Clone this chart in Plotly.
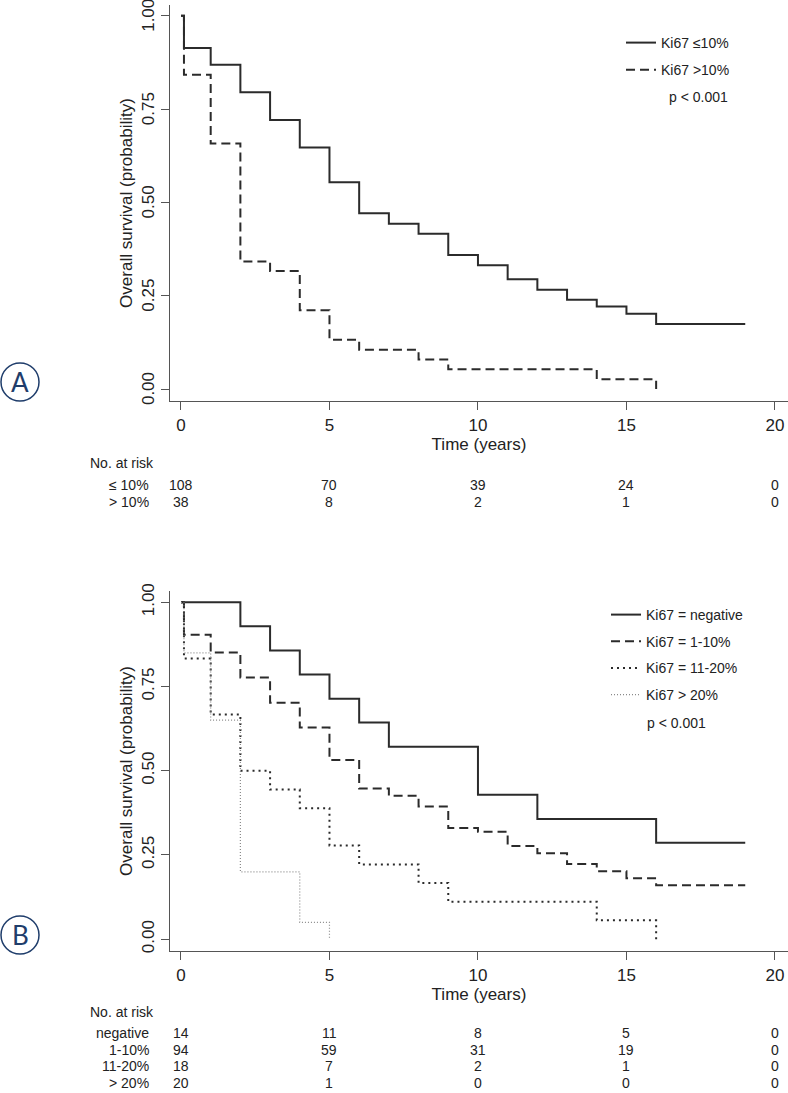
import plotly.graph_objects as go

# ---- data ----
# panel A: Ki67 <=10% vs >10%
a_le10_t = [0, 0.1, 1, 2, 3, 4, 5, 6, 7, 8, 9, 10, 11, 12, 13, 14, 15, 16, 19]
a_le10_s = [1.0, 0.914, 0.869, 0.795, 0.721, 0.647, 0.554, 0.471, 0.443, 0.416,
            0.359, 0.332, 0.294, 0.266, 0.239, 0.221, 0.202, 0.174, 0.174]
a_gt10_t = [0, 0.1, 1, 2, 3, 4, 5, 6, 8, 9, 14, 16]
a_gt10_s = [1.0, 0.842, 0.658, 0.342, 0.316, 0.211, 0.132, 0.105, 0.079, 0.053, 0.026, 0.0]

# panel B: four Ki67 groups
b_neg_t = [0, 2, 3, 4, 5, 6, 7, 10, 12, 16, 19]
b_neg_s = [1.0, 0.929, 0.857, 0.786, 0.714, 0.643, 0.571, 0.429, 0.357, 0.286, 0.286]
b_1_10_t = [0, 0.1, 1, 2, 3, 4, 5, 6, 7, 8, 9, 10, 11, 12, 13, 14, 15, 16, 19]
b_1_10_s = [1.0, 0.904, 0.851, 0.777, 0.702, 0.628, 0.532, 0.447, 0.426, 0.394,
            0.330, 0.319, 0.277, 0.255, 0.223, 0.202, 0.181, 0.160, 0.160]
b_11_20_t = [0, 0.1, 1, 2, 3, 4, 5, 6, 8, 9, 14, 16]
b_11_20_s = [1.0, 0.833, 0.667, 0.5, 0.444, 0.389, 0.278, 0.222, 0.167, 0.111, 0.056, 0.0]
b_gt20_t = [0, 0.1, 1, 2, 4, 5]
b_gt20_s = [1.0, 0.85, 0.65, 0.2, 0.05, 0.0]

risk_times = [0, 5, 10, 15, 20]
risk_a_labels = ["≤ 10%", "> 10%"]
risk_a = [[108, 70, 39, 24, 0],
          [38, 8, 2, 1, 0]]
risk_b_labels = ["negative", "1-10%", "11-20%", "> 20%"]
risk_b = [[14, 11, 8, 5, 0],
          [94, 59, 31, 19, 0],
          [18, 7, 2, 1, 0],
          [20, 1, 0, 0, 0]]

W, H = 788, 1093
FONT = "Liberation Sans, Arial, Helvetica, sans-serif"
INK = "#2b2b2b"
AXC = "#555555"
NAVY = "#1f3d6b"


def px_x(p):
    return p / W


def px_y(p):
    return 1 - p / H


fig = go.Figure()

# panel A curves
fig.add_trace(go.Scatter(x=a_le10_t, y=a_le10_s, mode="lines", line_shape="hv",
                         line=dict(color=INK, width=2), name="Ki67 ≤10%",
                         legend="legend", legendgroup="a1"))
fig.add_trace(go.Scatter(x=a_gt10_t, y=a_gt10_s, mode="lines", line_shape="hv",
                         line=dict(color=INK, width=2, dash="9px,5px"), name="Ki67 >10%",
                         legend="legend", legendgroup="a2"))

# panel B curves
fig.add_trace(go.Scatter(x=b_neg_t, y=b_neg_s, mode="lines", line_shape="hv",
                         line=dict(color=INK, width=2), name="Ki67 = negative",
                         xaxis="x2", yaxis="y2", legend="legend2", legendgroup="b1"))
fig.add_trace(go.Scatter(x=b_1_10_t, y=b_1_10_s, mode="lines", line_shape="hv",
                         line=dict(color=INK, width=2, dash="9px,5px"), name="Ki67 = 1-10%",
                         xaxis="x2", yaxis="y2", legend="legend2", legendgroup="b2"))
fig.add_trace(go.Scatter(x=b_11_20_t, y=b_11_20_s, mode="lines", line_shape="hv",
                         line=dict(color=INK, width=2, dash="2px,4px"), name="Ki67 = 11-20%",
                         xaxis="x2", yaxis="y2", legend="legend2", legendgroup="b3"))
fig.add_trace(go.Scatter(x=b_gt20_t, y=b_gt20_s, mode="lines", line_shape="hv",
                         line=dict(color="#8a8a8a", width=1.2, dash="1px,2px"), name="Ki67 > 20%",
                         xaxis="x2", yaxis="y2", legend="legend2", legendgroup="b4"))

xrange = [-0.37, 20.44]
xdom = [px_x(170), 1.0]
common_x = dict(range=xrange, domain=xdom, showline=True, linecolor=AXC, linewidth=1.3,
                ticks="outside", ticklen=8, tickcolor=AXC, tickwidth=1.3,
                tickvals=[0, 5, 10, 15, 20], showgrid=False, zeroline=False, automargin=False,
                ticklabeloverflow="allow", tickfont=dict(size=17, color="#222"),
                title=dict(text="Time (years)", font=dict(size=17, color="#222"), standoff=4))
common_y = dict(showline=True, linecolor=AXC, linewidth=1.3, ticks="outside", ticklen=8,
                tickcolor=AXC, tickwidth=1.3, tickvals=[0, 0.25, 0.5, 0.75, 1.0],
                tickformat=".2f", tickangle=-90, showgrid=False, zeroline=False, automargin=False,
                ticklabeloverflow="allow", tickfont=dict(size=17, color="#222"),
                title=dict(text="Overall survival (probability)",
                           font=dict(size=17, color="#222"), standoff=2))

fig.update_layout(
    width=W, height=H,
    margin=dict(l=0, r=0, t=0, b=0, pad=0),
    paper_bgcolor="white", plot_bgcolor="white",
    font=dict(family=FONT, color="#222"),
    xaxis=dict(common_x, anchor="y"),
    yaxis=dict(common_y, anchor="x", domain=[px_y(401), px_y(5)], range=[-0.032, 1.029],
               ticklabelshift=2),
    xaxis2=dict(common_x, anchor="y2"),
    yaxis2=dict(common_y, anchor="x2", domain=[px_y(951), px_y(591)], range=[-0.035, 1.0335]),
    legend=dict(x=px_x(621), y=px_y(27), xanchor="left", yanchor="top",
                font=dict(size=14, color="#222"), tracegroupgap=6, bgcolor="rgba(0,0,0,0)"),
    legend2=dict(x=px_x(606), y=px_y(599), xanchor="left", yanchor="top",
                 font=dict(size=14, color="#222"), tracegroupgap=5.5, bgcolor="rgba(0,0,0,0)"),
)


def note(text, x, y, size=14, xanchor="center", color="#222", family=None, xref="paper"):
    f = dict(size=size, color=color)
    if family:
        f["family"] = family
    fig.add_annotation(text=text, xref=xref, yref="paper", x=x, y=y, xanchor=xanchor,
                       yanchor="middle", showarrow=False, font=f)


# p-values
note("p < 0.001", px_x(698), px_y(97))
note("p < 0.001", px_x(676), px_y(723))


# number-at-risk tables
def risk_table(xref, top, labels, rows, step, gap):
    note("No. at risk", px_x(88), px_y(top), xanchor="left")
    for i, (lab, row) in enumerate(zip(labels, rows)):
        yy = px_y(top + gap + i * step)
        note(lab, px_x(151), yy, xanchor="right")
        for t, n in zip(risk_times, row):
            note(str(n), t, yy, xref=xref)


risk_table("x", 463, risk_a_labels, risk_a, 16.7, 22)
risk_table("x2", 1012, risk_b_labels, risk_b, 16.7, 21)

# circled panel letters
for letter, cy in [("A", 382), ("B", 935)]:
    fig.add_shape(type="circle", xref="paper", yref="paper",
                  x0=px_x(1), x1=px_x(39), y0=px_y(cy + 19), y1=px_y(cy - 19),
                  line=dict(color=NAVY, width=1.5))
    note(letter, px_x(20), px_y(cy), size=26, color=NAVY, family="Lato, sans-serif")

fig.write_html("out.html", config={"displayModeBar": False},
               post_script="document.body.style.margin='0';")
